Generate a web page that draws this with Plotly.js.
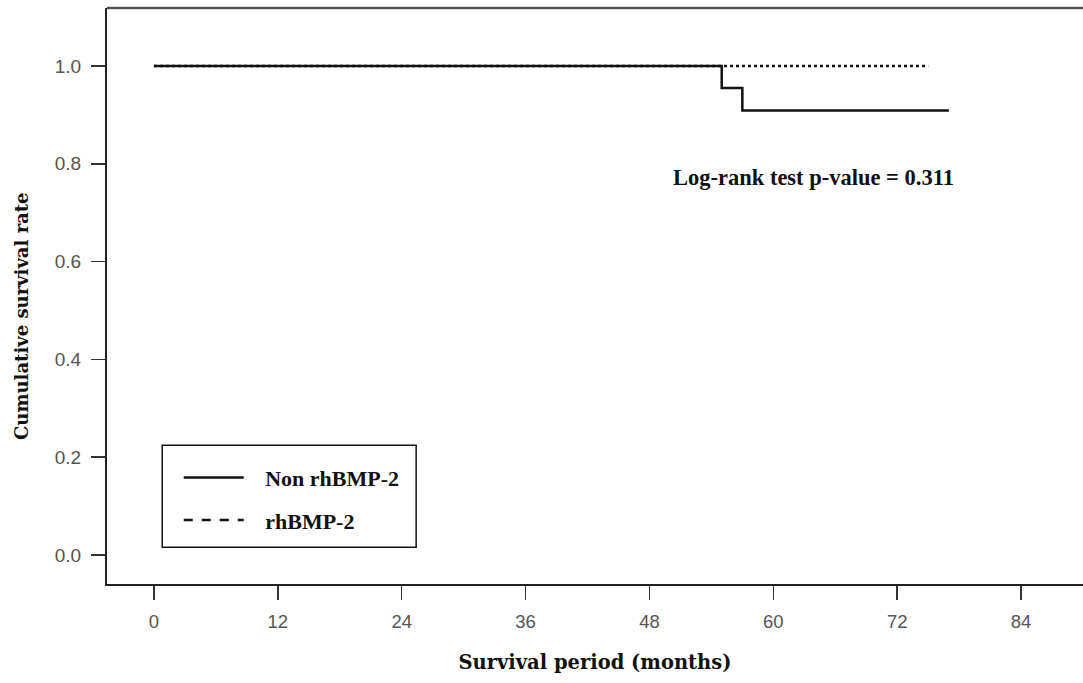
<!DOCTYPE html>
<html>
<head>
<meta charset="utf-8">
<script src="https://cdn.plot.ly/plotly-3.0.1.min.js"></script>
<style>html,body{margin:0;padding:0;background:#fff;}#chart{width:1083px;height:683px;}</style>
</head>
<body>
<div id="chart"></div>
<script>
// Kaplan-Meier step data (months, cumulative survival)
const nonBmpMonths = [0, 55, 57, 77];
const nonBmpSurvival = [1.0, 0.955, 0.909, 0.909];
const bmpMonths = [0, 75];
const bmpSurvival = [1.0, 1.0];
const seriesNames = ["Non rhBMP-2", "rhBMP-2"];
const xTicks = [0, 12, 24, 36, 48, 60, 72, 84];
const yTicks = [0.0, 0.2, 0.4, 0.6, 0.8, 1.0];
const pValueText = "Log-rank test p-value = 0.311";
const xTitle = "Survival period (months)";
const yTitle = "Cumulative survival rate";

const serif = "Liberation Serif, Times New Roman, serif";
const titleSerif = "DejaVu Serif, serif";
const sans = "Liberation Sans, Arial, sans-serif";
const pad = "\u2002 "; // gap between legend sample line and its label

const traces = [
  {x: bmpMonths, y: bmpSurvival, mode: "lines", line: {shape: "hv", color: "#111", width: 2.5, dash: "dot"}, showlegend: false, name: seriesNames[1]},
  {x: nonBmpMonths, y: nonBmpSurvival, mode: "lines", line: {shape: "hv", color: "#111", width: 2.5}, showlegend: false, name: seriesNames[0]},
  {x: [null], y: [null], mode: "lines", line: {color: "#111", width: 2.5}, name: pad + seriesNames[0], showlegend: true, legendgroup: "a"},
  {x: [null], y: [null], mode: "lines", line: {color: "#111", width: 2.5, dash: "dash"}, name: pad + seriesNames[1], showlegend: true, legendgroup: "b"}
];

const layout = {
  width: 1083, height: 683,
  margin: {l: 107, r: 0, t: 8, b: 99},
  paper_bgcolor: "#fff", plot_bgcolor: "#fff",
  showlegend: true,
  legend: {
    x: 0.0735, y: 0.221, xanchor: "left", yanchor: "top",
    bgcolor: "rgba(0,0,0,0)", borderwidth: 0,
    font: {family: serif, size: 22, color: "#111", weight: "bold"},
    itemwidth: 60, tracegroupgap: 11, traceorder: "grouped"
  },
  xaxis: {
    range: [-4.55, 90.0], tickvals: xTicks, ticktext: xTicks.map(String),
    showgrid: false, zeroline: false, showline: true, linecolor: "#222", linewidth: 2,
    ticks: "outside", ticklen: 14, tickwidth: 1.5, tickcolor: "#333", ticklabelstandoff: 6,
    tickfont: {family: sans, size: 18.5, color: "#555"},
    title: {text: xTitle, font: {family: titleSerif, size: 19.5, color: "#111", weight: "bold"}, standoff: 24}
  },
  yaxis: {
    range: [-0.0593, 1.1186], tickvals: yTicks, ticktext: yTicks.map(v => v.toFixed(1)),
    showgrid: false, zeroline: false, showline: true, linecolor: "#222", linewidth: 2,
    ticks: "outside", ticklen: 14, tickwidth: 1.5, tickcolor: "#333", ticklabelstandoff: 6,
    tickfont: {family: sans, size: 19, color: "#555"}
  },
  shapes: [
    {type: "line", xref: "paper", yref: "paper", x0: 0, x1: 1, y0: 1, y1: 1, line: {color: "#555", width: 2.5}},
    {type: "rect", xref: "x", yref: "y", x0: 0.8, x1: 25.4, y0: 0.016, y1: 0.2245, line: {color: "#111", width: 1.5}, fillcolor: "rgba(0,0,0,0)"}
  ],
  annotations: [
    {x: 63.9, y: 0.773, xref: "x", yref: "y", text: pValueText, showarrow: false,
     font: {family: serif, size: 22.5, color: "#111", weight: "bold"}},
    {x: -0.087, y: 0.489, xref: "paper", yref: "y", text: yTitle, textangle: -90, showarrow: false,
     xanchor: "center", yanchor: "middle",
     font: {family: titleSerif, size: 18, color: "#111", weight: "bold"}}
  ]
};

Plotly.newPlot("chart", traces, layout, {displayModeBar: false, staticPlot: true});
</script>
</body>
</html>
